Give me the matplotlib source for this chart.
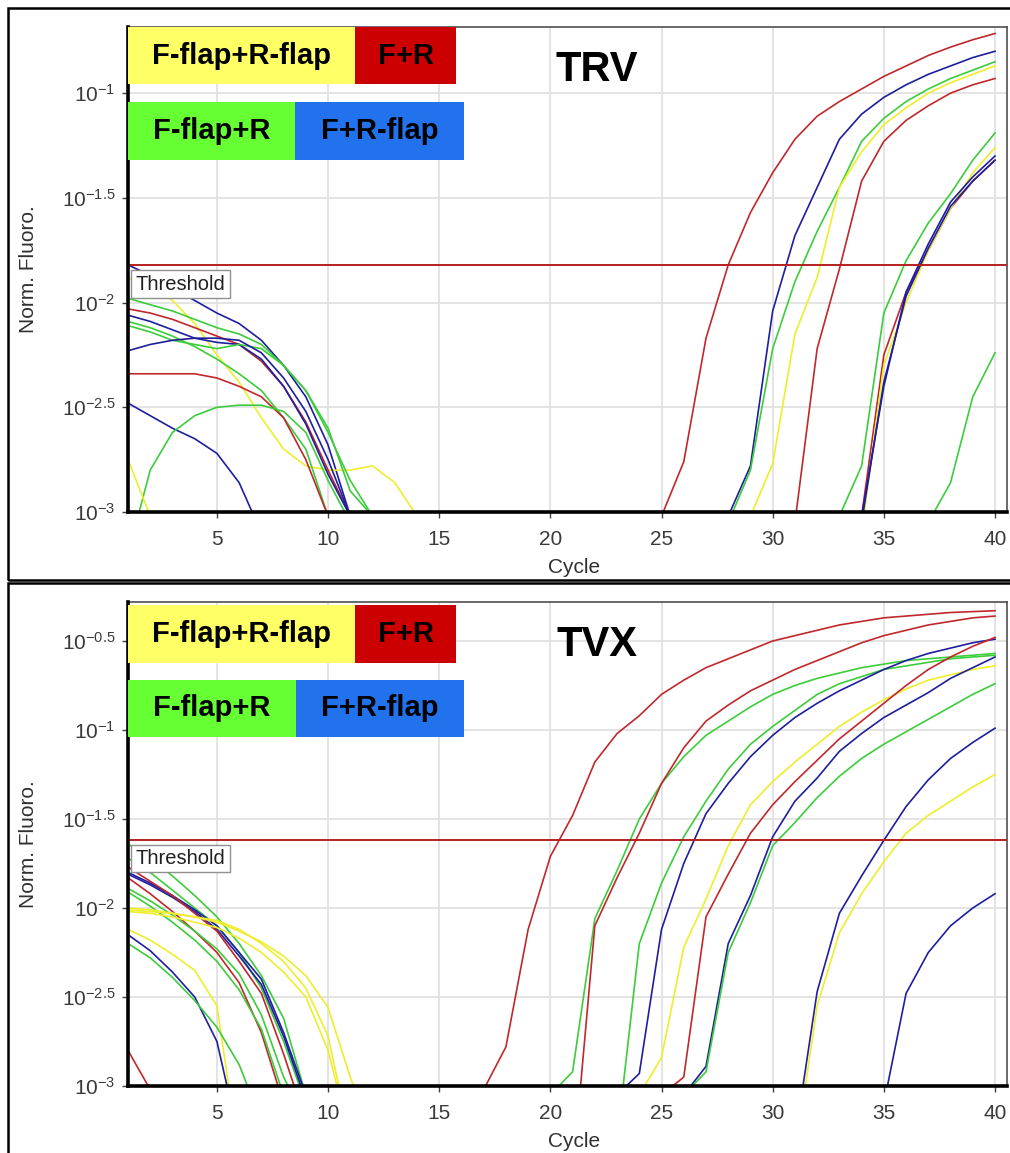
import matplotlib
matplotlib.use("Agg")
import matplotlib.pyplot as plt
import numpy as np
from matplotlib.patches import Rectangle
from matplotlib.ticker import FixedLocator, NullLocator

plt.rcParams['font.family'] = ['Liberation Sans', 'DejaVu Sans']
plt.rcParams['mathtext.fontset'] = 'custom'
plt.rcParams['mathtext.rm'] = 'Liberation Sans'
plt.rcParams['mathtext.it'] = 'Liberation Sans:italic'
plt.rcParams['mathtext.bf'] = 'Liberation Sans:bold'

# primer combinations (colour key)
pair_names = ["F-flap+R-flap", "F+R", "F-flap+R", "F+R-flap"]
pair_keys = ["FfRf", "FR", "FfR", "FRf"]

# curves: (primer key, first cycle, log10 Norm. Fluoro. per cycle)
trv_baseline = [
    ("FRf", 1, [-1.82, -1.87, -1.93, -1.99, -2.05, -2.10, -2.18, -2.30, -2.45, -2.68, -3.02]),
    ("FfRf", 1, [-1.88, -1.93, -1.99, -2.10, -2.25, -2.38, -2.55, -2.70, -2.78, -2.80, -2.80, -2.78, -2.86, -3.02]),
    ("FfR", 1, [-1.98, -2.01, -2.04, -2.08, -2.12, -2.15, -2.20, -2.30, -2.42, -2.62, -2.85, -3.02]),
    ("FR", 1, [-2.03, -2.05, -2.08, -2.12, -2.16, -2.20, -2.28, -2.40, -2.57, -2.80, -3.02]),
    ("FRf", 1, [-2.06, -2.09, -2.13, -2.17, -2.19, -2.20, -2.27, -2.40, -2.58, -2.82, -3.02]),
    ("FfR", 1, [-2.09, -2.12, -2.16, -2.21, -2.27, -2.34, -2.42, -2.55, -2.70, -3.02]),
    ("FfR", 1, [-2.11, -2.14, -2.18, -2.20, -2.22, -2.20, -2.22, -2.30, -2.42, -2.60, -2.90, -3.02]),
    ("FRf", 1, [-2.23, -2.20, -2.18, -2.17, -2.17, -2.18, -2.24, -2.36, -2.52, -2.75, -3.02]),
    ("FR", 1, [-2.34, -2.34, -2.34, -2.34, -2.36, -2.40, -2.45, -2.55, -2.75, -3.02]),
    ("FRf", 1, [-2.48, -2.54, -2.60, -2.65, -2.72, -2.86, -3.10]),
    ("FfR", 1, [-3.20, -2.80, -2.62, -2.54, -2.50, -2.49, -2.49, -2.52, -2.62, -2.85, -3.05]),
    ("FfRf", 1, [-2.75, -3.02]),
]

trv_rising = [
    ("FR", 25, [-3.02, -2.76, -2.17, -1.82, -1.57, -1.38, -1.22, -1.11, -1.04, -0.98, -0.92, -0.87, -0.82, -0.78, -0.745, -0.715]),
    ("FRf", 28, [-3.02, -2.78, -2.04, -1.68, -1.45, -1.22, -1.10, -1.02, -0.96, -0.91, -0.87, -0.83, -0.80]),
    ("FfR", 28, [-3.05, -2.80, -2.22, -1.90, -1.66, -1.45, -1.23, -1.12, -1.04, -0.98, -0.93, -0.89, -0.85]),
    ("FfRf", 29, [-3.02, -2.77, -2.15, -1.88, -1.45, -1.28, -1.15, -1.07, -1.00, -0.95, -0.91, -0.87]),
    ("FR", 31, [-3.05, -2.22, -1.84, -1.42, -1.23, -1.13, -1.06, -1.00, -0.96, -0.93]),
    ("FfR", 33, [-3.02, -2.78, -2.05, -1.80, -1.62, -1.48, -1.32, -1.19]),
    ("FR", 34, [-3.02, -2.25, -1.95, -1.75, -1.55, -1.42, -1.32]),
    ("FfRf", 34, [-3.10, -2.30, -2.00, -1.75, -1.55, -1.38, -1.26]),
    ("FRf", 34, [-3.02, -2.40, -1.95, -1.72, -1.52, -1.40, -1.30]),
    ("FRf", 34, [-3.05, -2.38, -1.97, -1.74, -1.54, -1.42, -1.32]),
    ("FfR", 37, [-3.05, -2.86, -2.45, -2.24]),
]

tvx_baseline = [
    ("FfR", 1, [-1.64, -1.72, -1.82, -1.93, -2.05, -2.20, -2.38, -2.62, -3.05]),
    ("FfR", 1, [-1.72, -1.80, -1.90, -2.00, -2.10, -2.25, -2.45, -2.75, -3.10]),
    ("FRf", 1, [-1.80, -1.86, -1.93, -2.01, -2.10, -2.25, -2.40, -2.70, -3.05]),
    ("FRf", 1, [-1.81, -1.87, -1.94, -2.02, -2.12, -2.27, -2.43, -2.72, -3.08]),
    ("FR", 1, [-1.77, -1.85, -1.93, -2.03, -2.13, -2.30, -2.48, -2.82, -3.20]),
    ("FR", 1, [-1.83, -1.92, -2.02, -2.13, -2.25, -2.42, -2.70, -3.10]),
    ("FfR", 1, [-1.89, -1.96, -2.04, -2.13, -2.23, -2.37, -2.60, -2.95, -3.20]),
    ("FfR", 1, [-1.91, -1.99, -2.08, -2.18, -2.30, -2.46, -2.68, -3.05]),
    ("FfRf", 1, [-2.01, -2.02, -2.03, -2.05, -2.07, -2.12, -2.20, -2.30, -2.45, -2.72, -3.30]),
    ("FfRf", 1, [-2.00, -2.01, -2.03, -2.05, -2.08, -2.13, -2.19, -2.27, -2.38, -2.56, -2.95, -3.30]),
    ("FfRf", 1, [-2.02, -2.03, -2.05, -2.08, -2.11, -2.17, -2.25, -2.36, -2.50, -2.80, -3.30]),
    ("FfRf", 1, [-2.12, -2.18, -2.26, -2.35, -2.55, -3.40]),
    ("FRf", 1, [-2.15, -2.24, -2.36, -2.50, -2.75, -3.30]),
    ("FfR", 1, [-2.20, -2.28, -2.39, -2.52, -2.67, -2.88, -3.20]),
    ("FR", 1, [-2.80, -3.02]),
]

tvx_rising = [
    ("FR", 17, [-3.02, -2.78, -2.12, -1.71, -1.48, -1.18, -1.02, -0.92, -0.80, -0.72, -0.65, -0.60, -0.55, -0.50, -0.47, -0.44, -0.41, -0.39, -0.37, -0.36, -0.35, -0.34, -0.335, -0.33]),
    ("FfR", 20, [-3.05, -2.92, -2.06, -1.79, -1.50, -1.30, -1.15, -1.03, -0.95, -0.87, -0.80, -0.75, -0.71, -0.68, -0.65, -0.63, -0.61, -0.60, -0.59, -0.58, -0.57]),
    ("FR", 21, [-3.50, -2.10, -1.83, -1.58, -1.30, -1.10, -0.95, -0.86, -0.78, -0.72, -0.66, -0.61, -0.56, -0.51, -0.47, -0.44, -0.41, -0.39, -0.37, -0.36]),
    ("FfR", 23, [-3.30, -2.20, -1.86, -1.60, -1.40, -1.22, -1.08, -0.98, -0.89, -0.80, -0.74, -0.70, -0.66, -0.64, -0.62, -0.60, -0.59, -0.58]),
    ("FRf", 23, [-3.05, -2.93, -2.12, -1.75, -1.47, -1.30, -1.15, -1.03, -0.93, -0.85, -0.78, -0.72, -0.66, -0.61, -0.57, -0.54, -0.51, -0.49]),
    ("FfRf", 24, [-3.05, -2.84, -2.22, -1.95, -1.65, -1.42, -1.29, -1.18, -1.08, -0.98, -0.90, -0.83, -0.77, -0.72, -0.69, -0.66, -0.64]),
    ("FR", 25, [-3.05, -2.95, -2.05, -1.81, -1.58, -1.42, -1.29, -1.17, -1.05, -0.95, -0.85, -0.75, -0.66, -0.59, -0.53, -0.48]),
    ("FRf", 26, [-3.05, -2.89, -2.20, -1.93, -1.60, -1.40, -1.27, -1.12, -1.02, -0.93, -0.86, -0.79, -0.71, -0.65, -0.59]),
    ("FfR", 26, [-3.05, -2.92, -2.25, -1.97, -1.65, -1.52, -1.38, -1.26, -1.16, -1.08, -1.01, -0.94, -0.87, -0.80, -0.74]),
    ("FRf", 31, [-3.30, -2.47, -2.03, -1.82, -1.62, -1.43, -1.28, -1.16, -1.07, -0.99]),
    ("FfRf", 31, [-3.40, -2.55, -2.14, -1.92, -1.74, -1.58, -1.48, -1.40, -1.32, -1.25]),
    ("FRf", 35, [-3.10, -2.48, -2.25, -2.10, -2.00, -1.92]),
]

# log10 thresholds and axis tops
trv_threshold = -1.82
tvx_threshold = -1.618
trv_yticks = [-3, -2.5, -2, -1.5, -1]
tvx_yticks = [-3, -2.5, -2, -1.5, -1, -0.5]
xticks = [5, 10, 15, 20, 25, 30, 35, 40]

line_colors = {"FfRf": "#eeee2c", "FR": "#c0282c", "FfR": "#3ccc3c", "FRf": "#1e1e9e"}
key_colors = {"FfRf": "#ffff66", "FR": "#cc0000", "FfR": "#66ff33", "FRf": "#2272ee"}

W, H = 1010, 1153


def px_box(x0, y0, x1, y1):
    # pixel box (top-left origin) -> figure fraction rect
    return [x0 / W, 1 - y1 / H, (x1 - x0) / W, (y1 - y0) / H]


def tick_label(v):
    return r"$10^{%g}$" % v


fig = plt.figure(figsize=(W / 100, H / 100), dpi=100)
fig.patch.set_facecolor("white")

# outer frames of the two screenshots
fig.add_artist(Rectangle((8 / W, 1 - 580 / H), 1.1, (580 - 8) / H, transform=fig.transFigure,
                         fill=False, ec="black", lw=1.8))
fig.add_artist(Rectangle((8 / W, -0.1), 1.1, 0.1 + (1153 - 583) / H, transform=fig.transFigure,
                         fill=False, ec="black", lw=1.8))

panels = [
    ("TRV", trv_baseline + trv_rising, trv_threshold, -0.684, trv_yticks, (27, 512),
     [(128, 27, 355, 84), (355, 27, 456, 84), (128, 102, 295, 160), (295, 102, 464, 160)]),
    ("TVX", tvx_baseline + tvx_rising, tvx_threshold, -0.281, tvx_yticks, (602, 1086),
     [(128, 605, 355, 663), (355, 605, 456, 663), (128, 680, 296, 737), (296, 680, 464, 737)]),
]

for title, curves, thr, ytop, yticks, (top, bottom), boxes in panels:
    ax = fig.add_axes(px_box(128, top, 1007, bottom))
    ax.set_yscale("log")
    ax.set_xlim(1, 40.54)
    ax.set_ylim(1e-3, 10 ** ytop)
    hgt = bottom - top

    for key, start, vals in curves:
        cyc = np.arange(start, start + len(vals))
        ax.plot(cyc, 10 ** np.array(vals), color=line_colors[key], lw=1.2, zorder=3)

    ax.axhline(10 ** thr, color="#b42020", lw=1.4, zorder=4)
    ax.text(0.009, 0.47, "Threshold", transform=ax.transAxes, fontsize=14.5, color="#202020",
            va="center", ha="left", zorder=6,
            bbox=dict(boxstyle="square,pad=0.22", fc="white", ec="#909090", lw=1.0))

    ax.yaxis.set_major_locator(FixedLocator([10 ** v for v in yticks]))
    ax.yaxis.set_minor_locator(NullLocator())
    ax.set_yticklabels([tick_label(v) for v in yticks])
    ax.set_xticks(xticks)
    ax.tick_params(axis="both", direction="out", length=4, width=1, color="#404040",
                   labelsize=15, labelcolor="#3a3a3a")
    ax.tick_params(axis="x", pad=9)
    ax.tick_params(axis="y", pad=5)
    ax.grid(True, color="#e2e2e2", lw=1.3, zorder=0)
    ax.set_axisbelow(True)

    for side in ("left", "bottom"):
        ax.spines[side].set_linewidth(2.6)
        ax.spines[side].set_color("black")
        ax.spines[side].set_zorder(5)
    for side in ("top", "right"):
        ax.spines[side].set_linewidth(1.2)
        ax.spines[side].set_color("#505050")

    ax.set_xlabel("Cycle", fontsize=15, color="#303030")
    ax.xaxis.set_label_coords(0.507, -46 / hgt)
    ax.set_ylabel("Norm. Fluoro.", fontsize=15, color="#303030")
    ax.yaxis.set_label_coords(-0.1024, 0.5)

    ax.text(0.5336, 1 - 43 / hgt, title, transform=ax.transAxes, fontsize=30,
            fontweight="bold", ha="center", va="center", color="black")

    # colour key boxes
    for name, key, (x0, y0, x1, y1) in zip(pair_names, pair_keys, boxes):
        fig.add_artist(Rectangle((x0 / W, 1 - y1 / H), (x1 - x0) / W, (y1 - y0) / H,
                                 transform=fig.transFigure, fc=key_colors[key], ec="none", zorder=10))
        fig.text((x0 + x1) / 2 / W, 1 - (y0 + y1) / 2 / H, name, fontsize=21, fontweight="bold",
                 ha="center", va="center", color="black", zorder=11)

fig.savefig("out.png", dpi=100, facecolor="white")
